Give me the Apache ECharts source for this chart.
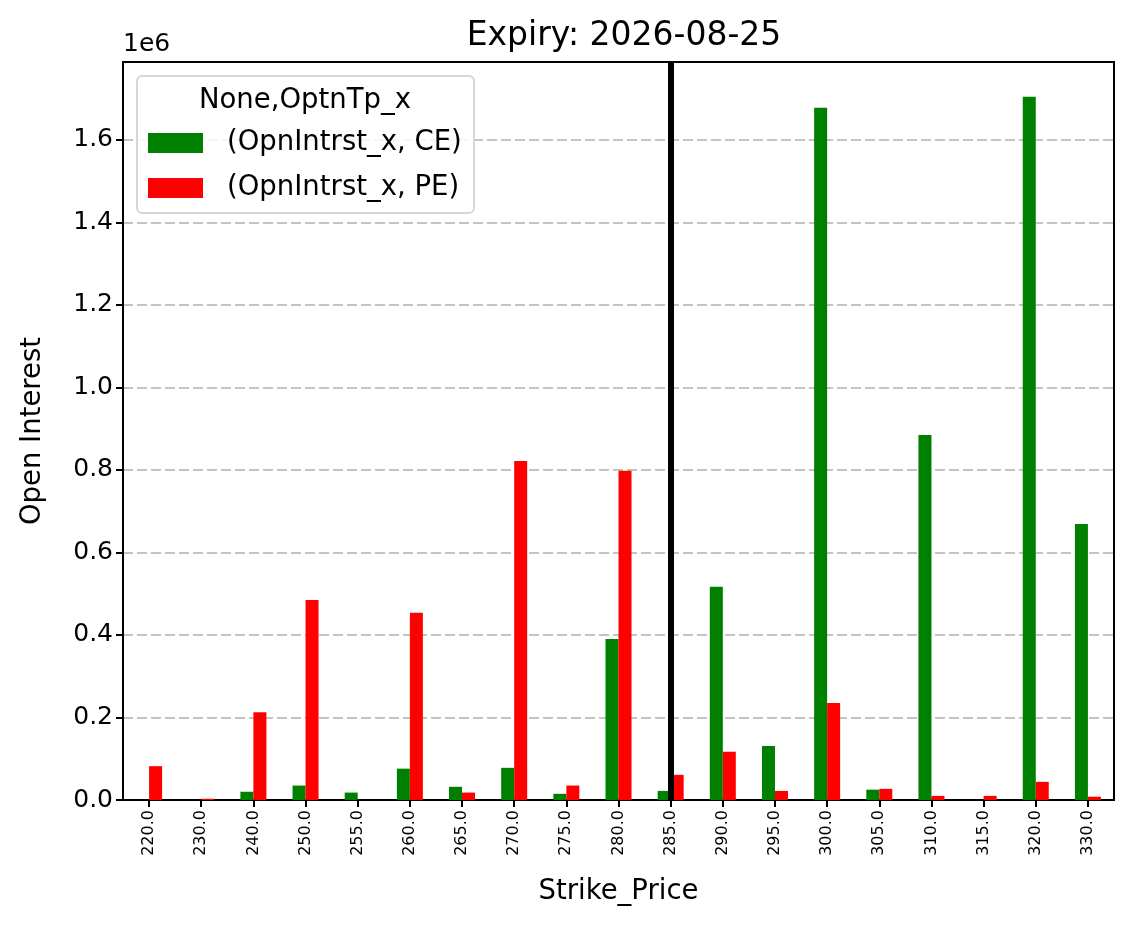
<!DOCTYPE html>
<html>
<head>
<meta charset="utf-8">
<script src="https://cdn.jsdelivr.net/npm/echarts@6/dist/echarts.min.js"></script>
<style>
  html, body { margin: 0; padding: 0; background: #fff; }
  #main { width: 1134px; height: 928px; }
</style>
</head>
<body>
<div id="main"></div>
<script>
// strike prices (categories)
var strikes = ['220.0', '230.0', '240.0', '250.0', '255.0', '260.0', '265.0', '270.0', '275.0', '280.0',
  '285.0', '290.0', '295.0', '300.0', '305.0', '310.0', '315.0', '320.0', '330.0'];
// open interest, calls
var oiCE = [0, 0, 20000, 35000, 18000, 76000, 32000, 78000, 15000, 390000,
  22000, 517000, 131000, 1678000, 25000, 885000, 0, 1705000, 669000];
// open interest, puts
var oiPE = [82000, 3000, 213000, 485000, 0, 454000, 18000, 822000, 35000, 798000,
  61000, 117000, 22000, 235000, 27000, 10000, 10000, 44000, 8000];
var spotStrike = '285.0';
var expiry = '2026-08-25';

var font = 'DejaVu Sans';
var myChart = echarts.init(document.getElementById('main'));

var option = {
  animation: false,
  textStyle: { fontFamily: font },
  title: {
    text: 'Expiry: ' + expiry,
    left: 619, top: 15, textAlign: 'center',
    textStyle: { fontFamily: font, fontSize: 33, fontWeight: 'normal', color: '#000' }
  },
  grid: {
    left: 123, right: 20, top: 62, bottom: 128,
    show: true, borderColor: '#000', borderWidth: 2
  },
  legend: {
    orient: 'vertical',
    left: 143, top: 124,
    itemWidth: 55, itemHeight: 20, itemGap: 17,
    icon: 'rect',
    z: 20,
    textStyle: { fontFamily: font, fontSize: 27.5, color: '#000', padding: [0, 0, 0, 19] },
    data: ['(OpnIntrst_x, CE)', '(OpnIntrst_x, PE)']
  },
  graphic: [
    {
      type: 'rect', z: 10,
      shape: { x: 137, y: 76, width: 337, height: 137, r: 5 },
      style: { fill: 'rgba(255,255,255,0.85)', stroke: '#d6d6d6', lineWidth: 2 }
    },
    {
      type: 'text', z: 11,
      x: 305, y: 101,
      style: { text: 'None,OptnTp_x', font: '27.5px "DejaVu Sans"', fill: '#000', textAlign: 'center', textVerticalAlign: 'middle' }
    },
    {
      type: 'text', z: 11,
      x: 123, y: 44,
      style: { text: '1e6', font: '25px "DejaVu Sans"', fill: '#000', textAlign: 'left', textVerticalAlign: 'middle' }
    }
  ],
  xAxis: {
    type: 'category',
    data: strikes,
    name: 'Strike_Price',
    nameLocation: 'middle',
    nameGap: 78,
    nameTextStyle: { fontFamily: font, fontSize: 27.5, color: '#000' },
    axisLine: { show: true, lineStyle: { color: '#000', width: 2 } },
    axisTick: { show: true, alignWithLabel: true, length: 7, lineStyle: { color: '#000', width: 2 } },
    axisLabel: { rotate: 90, fontFamily: font, fontSize: 16, color: '#000', margin: 10, interval: 0 },
    splitLine: { show: false }
  },
  yAxis: {
    type: 'value',
    min: 0, max: 1789000, interval: 200000,
    name: 'Open Interest',
    nameLocation: 'middle',
    nameRotate: 90,
    nameGap: 76,
    nameTextStyle: { fontFamily: font, fontSize: 27.5, color: '#000' },
    axisLine: { show: true, lineStyle: { color: '#000', width: 2 } },
    axisTick: { show: true, length: 7, lineStyle: { color: '#000', width: 2 } },
    axisLabel: {
      fontFamily: font, fontSize: 25, color: '#000', margin: 10, showMaxLabel: false,
      formatter: function (v) { return (v / 1e6).toFixed(1); }
    },
    splitLine: {
      show: true, showMinLine: false, showMaxLine: false,
      lineStyle: { color: '#c4c4c4', width: 2, type: [10, 4] }
    }
  },
  series: [
    {
      name: '(OpnIntrst_x, CE)',
      type: 'bar',
      data: oiCE,
      barWidth: 13,
      barGap: '0%',
      itemStyle: { color: '#008000' }
    },
    {
      name: '(OpnIntrst_x, PE)',
      type: 'bar',
      data: oiPE,
      barWidth: 13,
      barGap: '0%',
      itemStyle: { color: '#ff0000' }
    },
    {
      // carrier for the spot strike marker line (centred on the category)
      name: 'spot',
      type: 'line',
      data: [],
      z: 5,
      markLine: {
        silent: true,
        symbol: 'none',
        label: { show: false },
        lineStyle: { color: '#000', width: 6, type: 'solid' },
        data: [{ xAxis: spotStrike }]
      }
    }
  ]
};

myChart.setOption(option);
</script>
</body>
</html>
